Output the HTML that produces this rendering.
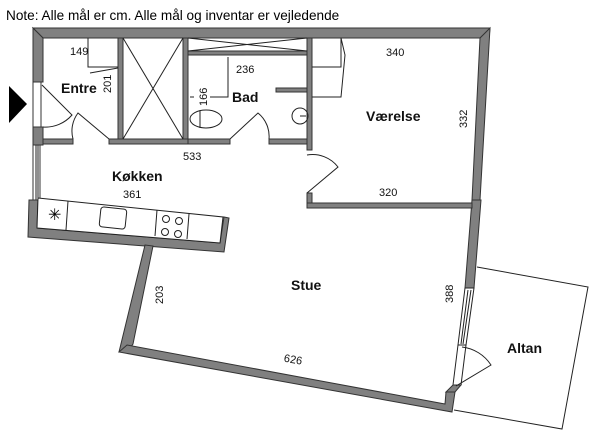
<!DOCTYPE html>
<html><head><meta charset="utf-8"><style>
html,body{margin:0;padding:0;background:#fff;}
svg{display:block;font-family:"Liberation Sans",sans-serif;}
.w{fill:#808080;stroke:#333;stroke-width:1}
.l{fill:none;stroke:#222;stroke-width:1}
.f{fill:#fff;stroke:#222;stroke-width:1}
.t{font-size:11px;fill:#111}
.b{font-size:14px;font-weight:bold;fill:#111}
</style></head><body>
<svg width="600" height="447" viewBox="0 0 600 447">
<text x="6" y="20" style="font-size:13.6px" fill="#000">Note: Alle mål er cm. Alle mål og inventar er vejledende</text>
<polygon class="w" points="33,28 490,28 489,38 43,38"/>
<polygon class="w" points="490,28 480,200 472,200 480,38"/>
<polygon class="w" points="481,200 474,288 465,288 472,200"/>
<polygon class="w" points="33,28 43,38 43,82 33,82"/>
<polygon class="w" points="33,127 43,127 43,145 33,145"/>
<rect x="33" y="145" width="7" height="55" fill="#fff" stroke="#333"/>
<line class="l" x1="36" y1="145" x2="36" y2="200"/><line class="l" x1="38" y1="145" x2="38" y2="200"/>
<rect x="33" y="82" width="8" height="45" fill="#fff" stroke="#333"/>
<polygon class="w" points="29,200 38,200 37,228 220,243 224,217 229,218 224,252 28,237"/>
<polygon class="f" points="38,198 223,217 220,243 37,228"/>
<polygon class="w" points="145,245 153,246 133,344 127,352 119,352"/>
<polygon class="w" points="119,352 127,345 445,404 446,392 455,392 452,412"/>
<polygon class="f" points="465,288 474,288 466,345 458,345"/>
<line class="l" x1="468" y1="290" x2="461" y2="344"/><line class="l" x1="471" y1="290" x2="463" y2="344"/>
<polygon class="f" points="458,345 466,345 461,385 453,385"/>
<polygon class="w" points="453,385 461,385 455,392 446,392"/>
<rect class="w" x="43" y="139" width="30" height="5"/>
<rect class="w" x="109" y="139" width="98" height="5"/>
<rect class="w" x="269" y="139" width="39" height="5"/>
<rect class="w" x="188" y="139" width="42" height="5"/>
<rect class="w" x="118" y="38" width="5" height="101"/>
<rect class="w" x="183" y="38" width="5" height="101"/>
<rect class="w" x="188" y="51" width="119" height="4"/>
<rect class="w" x="307" y="38" width="5" height="112"/>
<rect class="w" x="307" y="193" width="5" height="15"/>
<rect class="w" x="307" y="203" width="165" height="5"/>
<rect class="w" x="276" y="88" width="31" height="4"/>
<line class="l" x1="123" y1="38" x2="183" y2="139"/><line class="l" x1="183" y1="38" x2="123" y2="139"/>
<line class="l" x1="188" y1="38" x2="307" y2="51"/><line class="l" x1="188" y1="51" x2="307" y2="38"/>
<polyline class="l" points="88,38 88,67 118,67"/><line class="l" x1="90" y1="73" x2="118" y2="68"/>
<path class="l" d="M42,85 L72,115 A35,35 0 0,1 43,127"/>
<path class="l" d="M73,139 A30,30 0 0,1 78,113 L109,139"/>
<path class="l" d="M230,139 L258,113 A30,30 0 0,1 269,139"/>
<path class="l" d="M307,155 A32,32 0 0,1 338,167 L307,193"/>
<path class="l" d="M462,347 A40,40 0 0,1 491,365 L456,386"/>
<ellipse class="l" cx="206" cy="119" rx="16" ry="9"/><line class="l" x1="200" y1="111" x2="200" y2="128"/>
<line class="l" x1="190" y1="97" x2="194" y2="97"/><polyline class="l" points="210,97 228,97 228,57"/>
<circle class="l" cx="300" cy="116" r="8"/><line class="l" x1="300" y1="116" x2="306" y2="116"/>
<polyline class="l" points="312,67 341,67 341,38 345,55 341,97 312,97"/>
<line class="l" x1="68" y1="201" x2="66" y2="230"/><line class="l" x1="157" y1="210" x2="155" y2="236"/><line class="l" x1="189" y1="214" x2="187" y2="239"/>
<rect class="l" x="100" y="208" width="26" height="20" rx="3" transform="rotate(6 113 218)"/>
<text x="48" y="220" style="font-size:16px">✳</text>
<circle class="l" cx="166" cy="219" r="3.5"/><circle class="l" cx="179" cy="221" r="3.5"/>
<circle class="l" cx="165" cy="232" r="3.5"/><circle class="l" cx="178" cy="234" r="3.5"/>
<polyline class="l" points="477,267 588,287 562,429 454,410"/>
<polygon points="9,86 27,104 9,123" fill="#000"/>
<text class="b" x="61" y="93">Entre</text>
<text class="b" x="232" y="102">Bad</text>
<text class="b" x="366" y="121">Værelse</text>
<text class="b" x="112" y="181">Køkken</text>
<text class="b" x="291" y="290">Stue</text>
<text class="b" x="507" y="353">Altan</text>
<text class="t" x="70" y="55">149</text>
<text class="t" x="236" y="73">236</text>
<text class="t" x="386" y="56">340</text>
<text class="t" x="183" y="160">533</text>
<text class="t" x="123" y="198">361</text>
<text class="t" x="379" y="196">320</text>
<text class="t" x="284" y="363" transform="rotate(10 292 359)">626</text>
<text class="t" transform="translate(111,93) rotate(-90)">201</text>
<text class="t" transform="translate(207,106) rotate(-90)">166</text>
<text class="t" transform="translate(467,128) rotate(-90)">332</text>
<text class="t" transform="translate(163,304) rotate(-90)">203</text>
<text class="t" transform="translate(453,303) rotate(-90)">388</text>
</svg>
</body></html>
